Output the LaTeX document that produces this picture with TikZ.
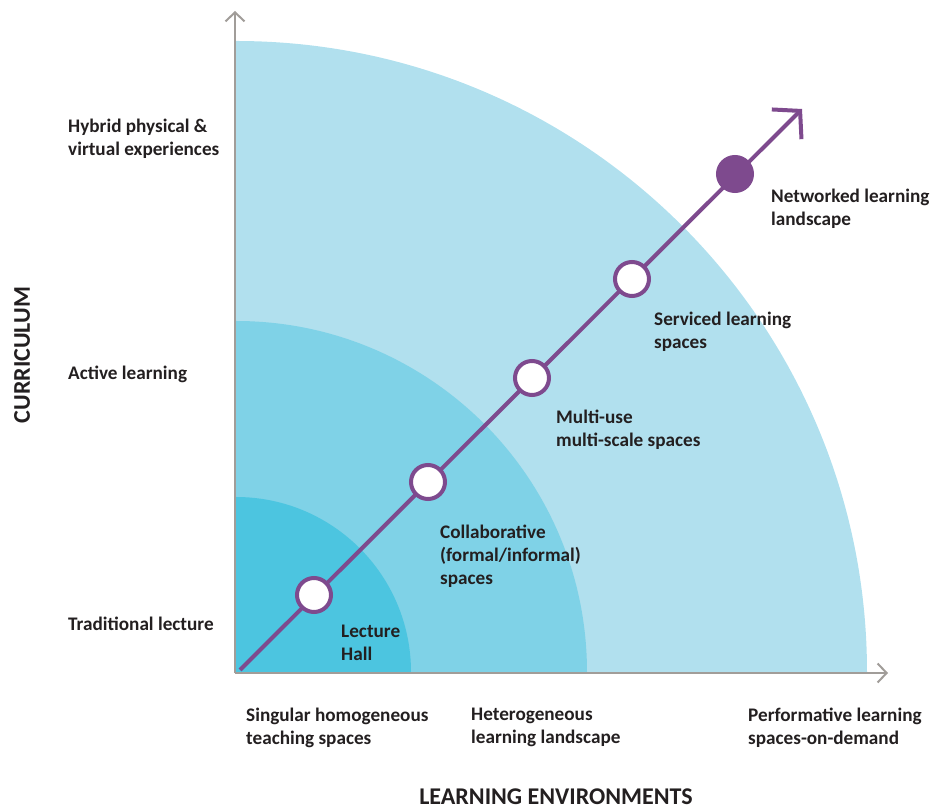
\documentclass[tikz,border=0pt]{standalone}
\usepackage{fontspec}
\setmainfont{Carlito}
\usetikzlibrary{arrows.meta, positioning}
\definecolor{zoneA}{HTML}{B1E0EE}
\definecolor{zoneB}{HTML}{7FD2E7}
\definecolor{zoneC}{HTML}{4CC5E0}
\definecolor{axisgray}{HTML}{A19D99}
\definecolor{pathpurple}{HTML}{7E4A8E}
\definecolor{txt}{HTML}{231F20}

\begin{document}
\begin{tikzpicture}
		[
	x=1pt, y=1pt,
	lbl/.style={anchor=north west,inner sep=0pt,align=left,text=txt,font=\fontsize{19.2}{23}\selectfont\bfseries},
	ttl/.style={inner sep=0pt,text=txt,font=\fontsize{24}{28}\selectfont\bfseries},
	stage/.style={draw=pathpurple,line width=4pt,fill=white,shape=circle,minimum size=34pt,inner sep=0pt},
	axis/.style={draw=axisgray,line width=2pt,-{Straight Barb[length=9pt,width=19pt]}}
	]
		\useasboundingbox (-236,-139) rectangle (694,672);
		% zones
		\fill [zoneA] (0,0) -- (631,0) arc[start angle=0,end angle=90,radius=631] -- cycle;
		\fill [zoneB] (0,0) -- (351,0) arc[start angle=0,end angle=90,radius=351] -- cycle;
		\fill [zoneC] (0,0) -- (175,0) arc[start angle=0,end angle=90,radius=175] -- cycle;
	
		\coordinate (o) at (-1,-1);
		\coordinate (ytip) at (-1,661);
		\coordinate (xtip) at (652,-1);
		\draw [axis] (o) -- (ytip);
		\draw [axis] (o) -- (xtip);
	
		\coordinate (ps) at (4,2);
		\coordinate (pe) at (566,563);
		\draw [pathpurple,line width=4pt,-{Straight Barb[length=19pt,width=42pt]}] (ps) -- (pe);
	
		\node (lec) [stage] at (78,77) {};
		\node (col) [stage] at (192,190) {};
		\node (mul) [stage] at (296,294) {};
		\node (ser) [stage] at (396,393) {};
		\node (net) [stage,fill=pathpurple] at (499,498) {};
	
		% stage labels
		\node (lecl) [lbl] at (105,47) {Lecture\\Hall};
		\node (coll) [lbl] at (204,147) {Collaborative\\(formal/informal)\\spaces};
		\node (mull) [lbl] at (320,262) {Multi-use\\multi-scale spaces};
		\node (serl) [lbl] at (418,360) {Serviced learning\\spaces};
		\node (netl) [lbl] at (535,483) {Networked learning\\landscape};
	
		% curriculum levels
		\node (hyb) [lbl] at (-168,553) {Hybrid physical \&\\virtual experiences};
		\node (act) [lbl] at (-168,306) {Active learning};
		\node (tra) [lbl] at (-168,55) {Traditional lecture};
	
		% environments
		\node (sin) [lbl] at (10,-36) {Singular homogeneous\\teaching spaces};
		\node (het) [lbl] at (235,-36) {Heterogeneous\\learning landscape};
		\node (per) [lbl] at (512,-36) {Performative learning\\spaces-on-demand};
	
		\node (cur) [ttl,rotate=90] at (-214,317) {CURRICULUM};
		\node (env) [ttl] at (320,-125) {LEARNING ENVIRONMENTS};
	\end{tikzpicture}
\end{document}
